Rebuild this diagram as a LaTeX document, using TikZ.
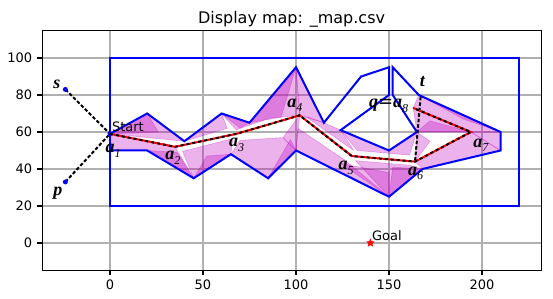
\documentclass[tikz,border=0pt]{standalone}
\usepackage{fontspec}
\setmainfont{DejaVu Sans}
\newfontfamily\labfont{Liberation Serif}
\usetikzlibrary{shapes.geometric}

\definecolor{fan}{rgb}{0.75,0,0.75}
\definecolor{gridgray}{HTML}{B0B0B0}

% path vertex labels
\newcommand{\alab}[1]{{\labfont\bfseries\itshape\fontsize{18}{18}\selectfont a\raisebox{-0.25em}{\fontsize{12}{12}\selectfont\mdseries #1}}}
\newcommand{\plab}[1]{{\labfont\bfseries\itshape\fontsize{18}{18}\selectfont #1}}

\begin{document}
\begin{tikzpicture}[
    x=1.86pt, y=1.85pt,
    every node/.style={inner sep=0pt},
    gridline/.style={draw=gridgray, line width=1.1pt},
    spine/.style={draw=black, line width=1.1pt},
    tickmark/.style={draw=black, line width=1.1pt},
    ticklab/.style={font=\fontsize{13}{13}\selectfont},
    wall/.style={draw=blue, line width=2pt, line join=miter},
    tri/.style={fill=fan, fill opacity=0.3, draw=fan, draw opacity=0.3, line width=0.6pt},
    route/.style={draw=red, line width=2pt},
    routedash/.style={draw=black, line width=2pt, dash pattern=on 3pt off 3pt},
    sight/.style={draw=black, line width=2pt, dash pattern=on 3.5pt off 2pt},
    dot/.style={circle, fill=blue, minimum size=5pt},
    txt/.style={font=\fontsize{13}{13}\selectfont}
]
\useasboundingbox (-59.14,-30.27) rectangle (238.17,131.35);

% grid
\foreach \gx in {0,50,...,200}
    \draw[gridline] (\gx,-14.7) -- (\gx,114.9);
\foreach \gy in {0,20,...,100}
    \draw[gridline] (-36.4,\gy) -- (232.2,\gy);

% map points
\coordinate (a1) at (0,59);
\coordinate (a2) at (35,52);
\coordinate (a3) at (68,59);
\coordinate (a4) at (102,69);
\coordinate (a5) at (130,47);
\coordinate (a6) at (164,44);
\coordinate (a7) at (194,60);
\coordinate (a8) at (163,73);
\coordinate (s) at (-24,83);
\coordinate (p) at (-24,33);
\coordinate (t) at (167,79);
\coordinate (u1) at (20,70);
\coordinate (u2) at (40,55);
\coordinate (u3) at (60,70);
\coordinate (u4) at (75,65);
\coordinate (u5) at (100,95);
\coordinate (u6) at (115,65);
\coordinate (u7) at (135,90);
\coordinate (o1) at (150,95);
\coordinate (o2) at (150,80);
\coordinate (o3) at (124,61);
\coordinate (o4) at (150,50);
\coordinate (o5) at (165,60);
\coordinate (o6) at (152,80);
\coordinate (o7) at (152,95);
\coordinate (r1) at (166,80);
\coordinate (r2) at (210,60);
\coordinate (r3) at (210,50);
\coordinate (r4) at (168,40);
\coordinate (r5) at (150,25);
\coordinate (l5) at (100,50);
\coordinate (l4) at (85,35);
\coordinate (l3) at (65,48);
\coordinate (l2) at (45,35);
\coordinate (l1) at (20,50);
\coordinate (l0) at (0,50);

% triangles
\draw[tri] (a1) -- (u1) -- (u2) -- cycle;
\draw[tri] (a1) -- (u1) -- (26,60) -- cycle;
\draw[tri] (a1) -- (a2) -- (l2) -- (l1) -- (l0) -- cycle;
\draw[tri] (l1) -- (l2) -- (36,49) -- cycle;
\draw[tri] (u2) -- (u3) -- (63,62) -- cycle;
\draw[tri] (u3) -- (u4) -- (68,61) -- cycle;
\draw[tri] (39,49.5) -- (66,56.5) -- (l3) -- (l2) -- cycle;
\draw[tri] (l2) -- (l3) -- (52,47) -- cycle;
\draw[tri] (u3) -- (u4) -- (u5) -- (a4) -- (86,67.5) -- (70,62) -- cycle;
\draw[tri] (u4) -- (u5) -- (92,68) -- cycle;
\draw[tri] (u5) -- (u6) -- (a4) -- cycle;
\draw[tri] (70,55.5) -- (93,57) -- (l5) -- (l4) -- (l3) -- cycle;
\draw[tri] (l4) -- (l5) -- (97,56) -- cycle;
\draw[tri] (l5) -- (a4) -- (93,57) -- cycle;
\draw[tri] (105,68.5) -- (u6) -- (o3) -- (131,50) -- cycle;
\draw[tri] (l5) -- (101,62) -- (126,45) -- (r5) -- cycle;
\draw[tri] (124,43) -- (150,38) -- (r5) -- cycle;
\draw[tri] (o3) -- (o4) -- (o5) -- (161,47.5) -- (133,50) -- cycle;
\draw[tri] (132,44.5) -- (161,42) -- (r4) -- (r5) -- cycle;
\draw[tri] (r5) -- (r4) -- (152,41) -- cycle;
\draw[tri] (o5) -- (a7) -- (r2) -- (r1) -- (a8) -- cycle;
\draw[tri] (o5) -- (a7) -- (172,66) -- cycle;
\draw[tri] (r1) -- (r2) -- (190,67) -- cycle;
\draw[tri] (a6) -- (o5) -- (172,55) -- cycle;
\draw[tri] (a6) -- (a7) -- (r3) -- (r4) -- cycle;
\draw[tri] (a7) -- (r2) -- (r3) -- cycle;

% walls
\draw[wall] (0,20) rectangle (220,100);
\draw[wall] (a1) -- (u1) -- (u2) -- (u3) -- (u4) -- (u5) -- (u6) -- (u7) -- (o1)
    -- (o2) -- (o3) -- (o4) -- (o5) -- (o6) -- (o7) -- (r1) -- (r2) -- (r3)
    -- (r4) -- (r5) -- (l5) -- (l4) -- (l3) -- (l2) -- (l1) -- (l0);

% sight lines and route
\draw[sight] (s) -- (a1);
\draw[sight] (p) -- (a1);
\draw[sight] (t) -- (a6);
\node[dot] (sdot) at (s) {};
\node[dot] (pdot) at (p) {};
\node[dot] (startdot) at (a1) {};
\draw[route] (a1) -- (a2) -- (a3) -- (a4) -- (a5) -- (a6) -- (a7) -- (a8);
\draw[routedash] (a1) -- (a2) -- (a3) -- (a4) -- (a5) -- (a6) -- (a7) -- (a8);

% goal
\node[star, star points=5, star point ratio=2.4, fill=red, draw=red, minimum size=8pt] (goal) at (140,0) {};
\node[txt, anchor=base west] (goallab) at (140.8,1.5) {Goal};
\node[txt, anchor=base west] (startlab) at (1,60) {Start};

% labels
\node[anchor=base west] (la1) at (-2.5,48.7) {\alab{1}};
\node[anchor=base west] (la2) at (29.6,44.9) {\alab{2}};
\node[anchor=base west] (la3) at (64,52) {\alab{3}};
\node[anchor=base west] (la4) at (95.3,73.4) {\alab{4}};
\node[anchor=base west] (la5) at (122.8,39.7) {\alab{5}};
\node[anchor=base west] (la6) at (160.2,36.5) {\alab{6}};
\node[anchor=base west] (la7) at (195.2,51.8) {\alab{7}};
\node[anchor=base west] (la8) at (139.2,73) {\plab{q}{\fontsize{18}{18}\selectfont=}\alab{8}};
\node[anchor=base west] (lt) at (166.5,84.5) {\plab{t}};
\node[anchor=base west] (ls) at (-30.5,83.6) {\plab{s}};
\node[anchor=base west] (lp) at (-30.5,25.9) {\plab{p}};

% axes
\draw[spine] (-36.4,-14.7) rectangle (232.2,114.9);
\foreach \gx in {0,50,...,200} {
    \draw[tickmark] (\gx,-14.7) -- (\gx,-17.35);
    \node[ticklab, anchor=north] (xt\gx) at (\gx,-20) {\gx};
}
\foreach \gy in {0,20,...,100} {
    \draw[tickmark] (-36.4,\gy) -- (-39.03,\gy);
    \node[ticklab, anchor=east] (yt\gy) at (-41.7,\gy) {\gy};
}
\node[font=\fontsize{16}{16}\selectfont, anchor=base] (title) at (97.6,118.4) {Display map: \_map.csv};
\end{tikzpicture}
\end{document}
